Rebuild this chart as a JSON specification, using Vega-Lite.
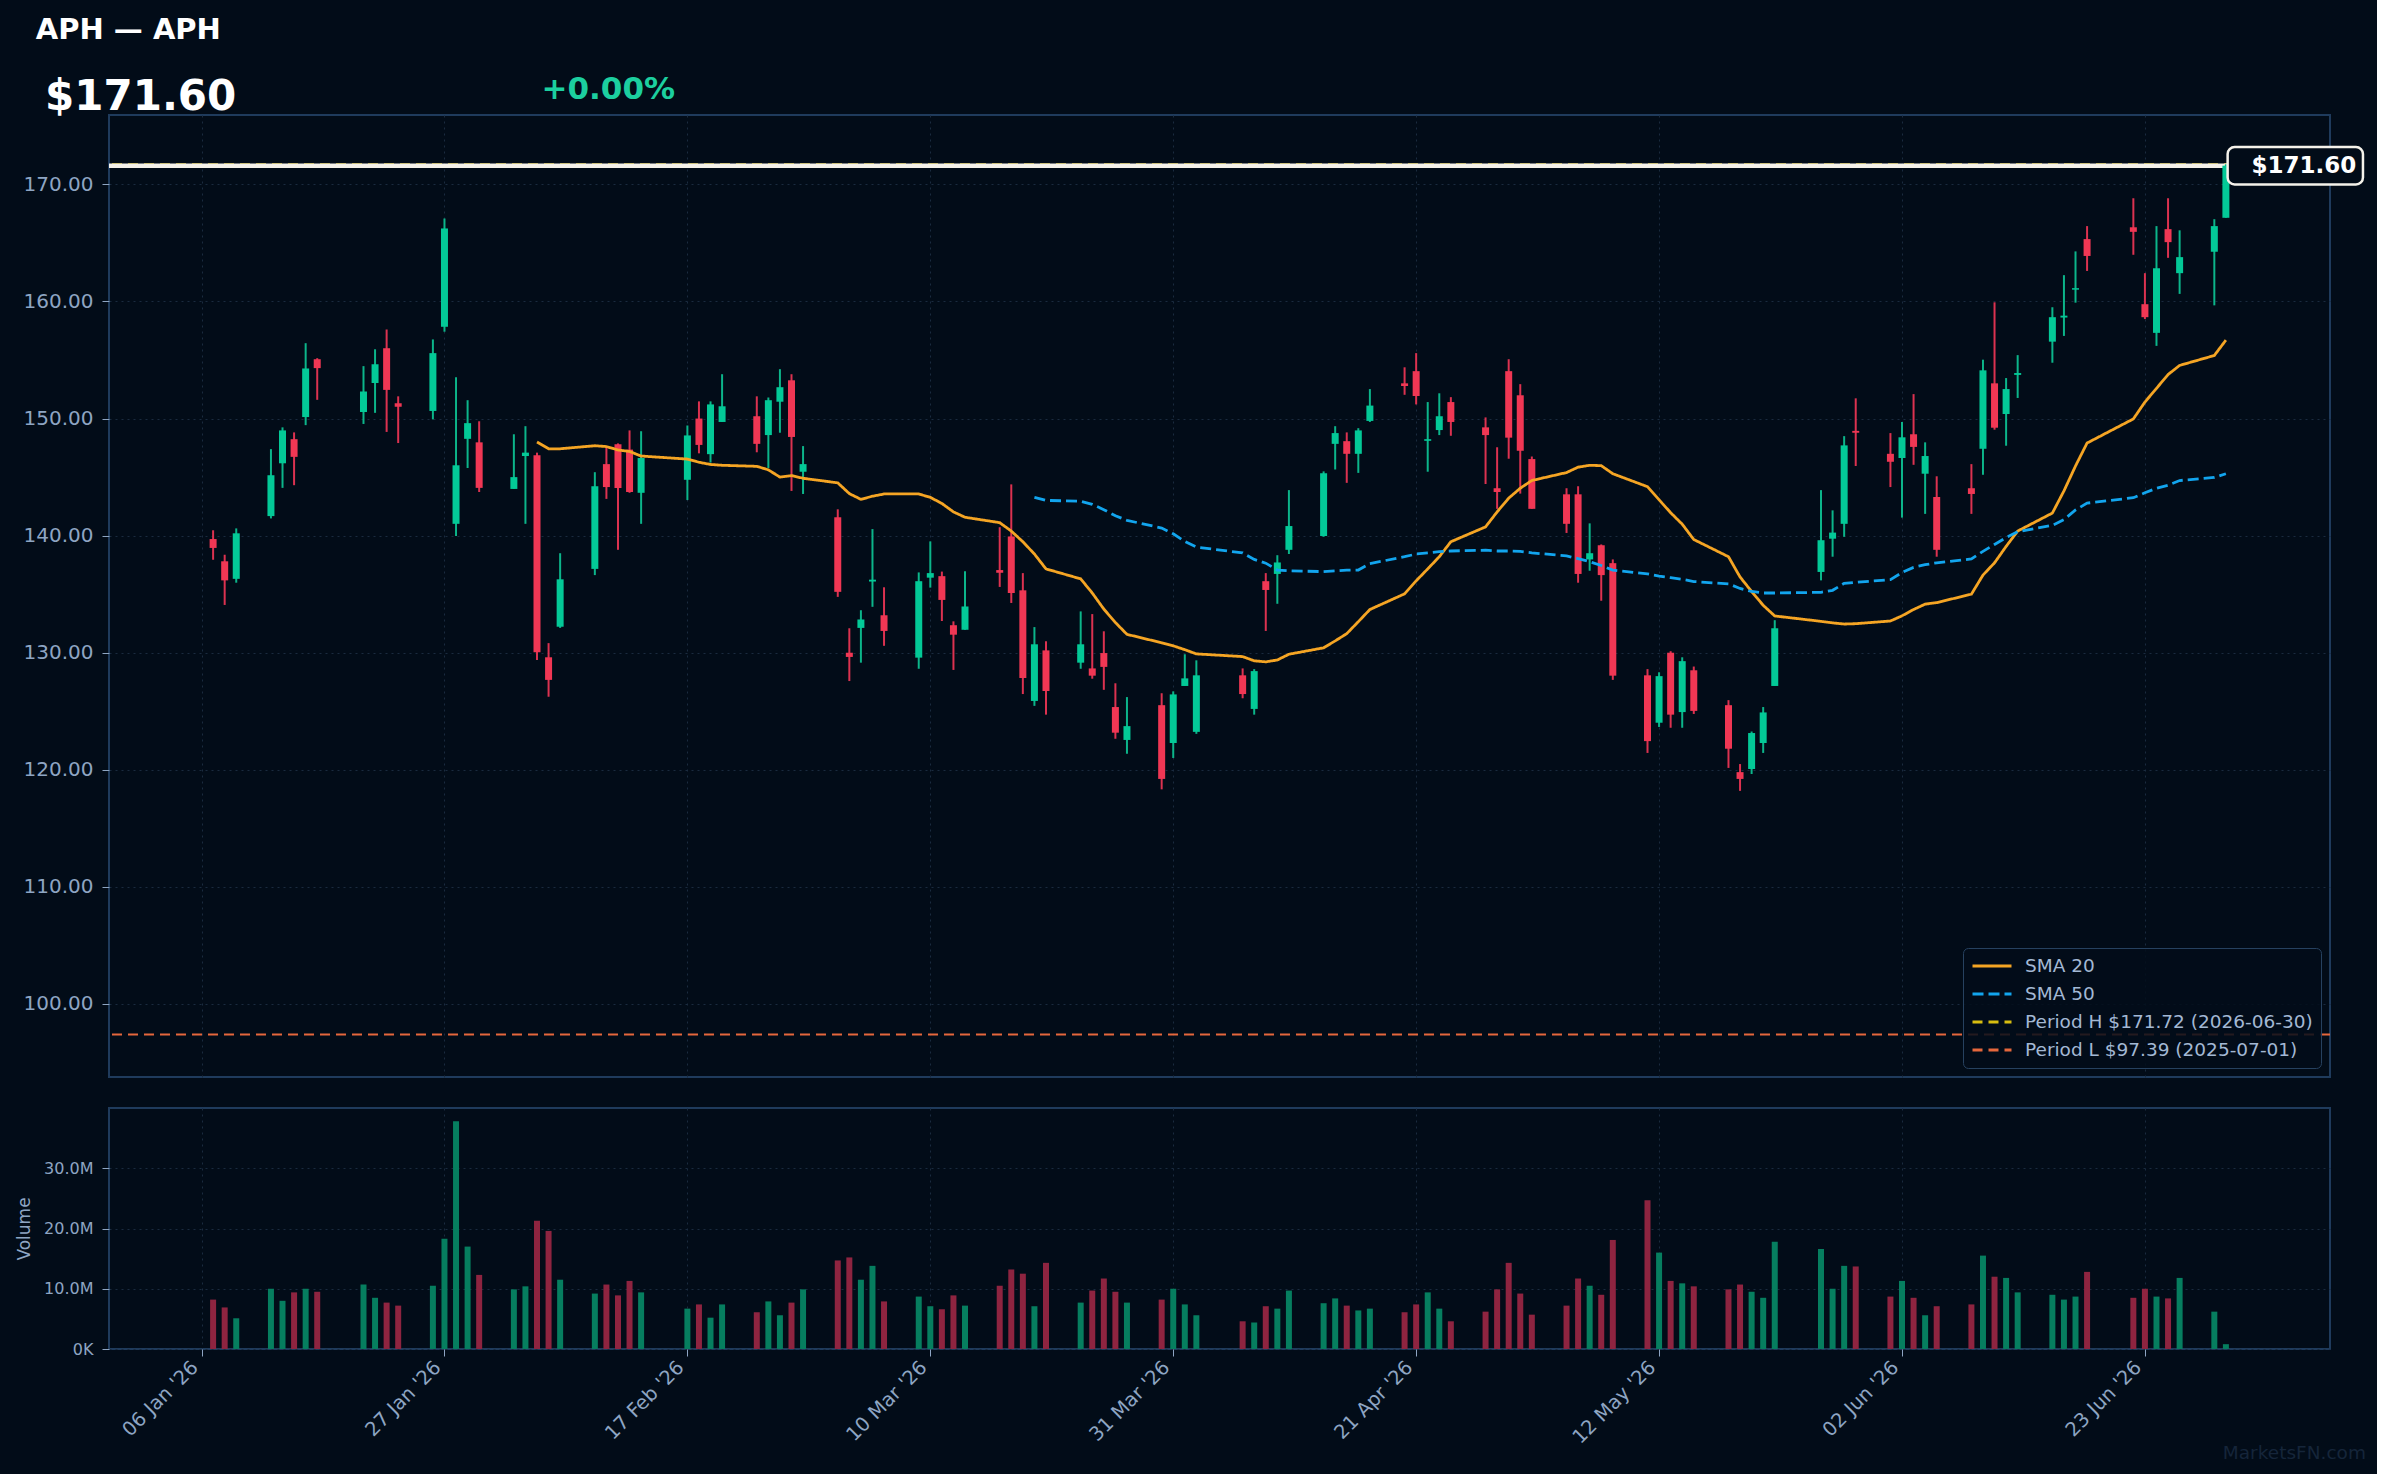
{
  "$schema": "https://vega.github.io/schema/vega-lite/v6.json",
  "background": "#020c18",
  "padding": {"left": 14, "top": 15, "right": 10, "bottom": 10},
  "spacing": 29,
  "resolve": {"scale": {"color": "independent", "strokeDash": "independent"}, "legend": {"color": "independent", "strokeDash": "independent"}},
  "datasets": {
    "candles": [
      {"date":"2026-01-07","open":139.71,"high":140.46,"low":137.94,"close":138.95,"volume":8200000},
      {"date":"2026-01-08","open":137.81,"high":138.37,"low":134.08,"close":136.18,"volume":6900000},
      {"date":"2026-01-09","open":136.31,"high":140.62,"low":135.98,"close":140.2,"volume":5100000},
      {"date":"2026-01-12","open":141.67,"high":147.39,"low":141.47,"close":145.16,"volume":10000000},
      {"date":"2026-01-13","open":146.18,"high":149.25,"low":144.08,"close":148.99,"volume":8000000},
      {"date":"2026-01-14","open":148.24,"high":148.82,"low":144.31,"close":146.73,"volume":9400000},
      {"date":"2026-01-15","open":150.13,"high":156.44,"low":149.44,"close":154.28,"volume":10000000},
      {"date":"2026-01-16","open":155.07,"high":155.16,"low":151.6,"close":154.31,"volume":9500000},
      {"date":"2026-01-20","open":150.56,"high":154.48,"low":149.54,"close":152.32,"volume":10700000},
      {"date":"2026-01-21","open":153.04,"high":155.92,"low":150.49,"close":154.64,"volume":8500000},
      {"date":"2026-01-22","open":156.01,"high":157.61,"low":148.86,"close":152.45,"volume":7700000},
      {"date":"2026-01-23","open":151.31,"high":151.9,"low":147.91,"close":151.01,"volume":7200000},
      {"date":"2026-01-26","open":150.65,"high":156.76,"low":149.93,"close":155.59,"volume":10500000},
      {"date":"2026-01-27","open":157.84,"high":167.09,"low":157.42,"close":166.24,"volume":18300000},
      {"date":"2026-01-28","open":141.01,"high":153.53,"low":139.97,"close":146.01,"volume":37800000},
      {"date":"2026-01-29","open":148.27,"high":151.57,"low":145.78,"close":149.61,"volume":17000000},
      {"date":"2026-01-30","open":147.97,"high":149.77,"low":143.73,"close":144.08,"volume":12300000},
      {"date":"2026-02-02","open":143.99,"high":148.66,"low":143.99,"close":145.0,"volume":9900000},
      {"date":"2026-02-03","open":146.8,"high":149.35,"low":141.01,"close":147.09,"volume":10400000},
      {"date":"2026-02-04","open":146.86,"high":147.09,"low":129.38,"close":130.03,"volume":21300000},
      {"date":"2026-02-05","open":129.61,"high":130.82,"low":126.24,"close":127.68,"volume":19600000},
      {"date":"2026-02-06","open":132.22,"high":138.5,"low":132.12,"close":136.27,"volume":11500000},
      {"date":"2026-02-09","open":137.16,"high":145.42,"low":136.63,"close":144.22,"volume":9200000},
      {"date":"2026-02-10","open":146.11,"high":147.58,"low":143.14,"close":144.15,"volume":10700000},
      {"date":"2026-02-11","open":147.81,"high":147.88,"low":138.79,"close":144.08,"volume":8900000},
      {"date":"2026-02-12","open":147.35,"high":148.99,"low":143.66,"close":143.73,"volume":11300000},
      {"date":"2026-02-13","open":143.66,"high":148.92,"low":141.01,"close":146.63,"volume":9400000},
      {"date":"2026-02-17","open":144.77,"high":149.41,"low":143.04,"close":148.56,"volume":6700000},
      {"date":"2026-02-18","open":150.0,"high":151.47,"low":147.03,"close":147.75,"volume":7400000},
      {"date":"2026-02-19","open":146.96,"high":151.47,"low":146.24,"close":151.21,"volume":5200000},
      {"date":"2026-02-20","open":149.71,"high":153.79,"low":149.71,"close":151.05,"volume":7400000},
      {"date":"2026-02-23","open":150.2,"high":151.9,"low":147.12,"close":147.84,"volume":6100000},
      {"date":"2026-02-24","open":148.59,"high":151.8,"low":145.78,"close":151.57,"volume":7900000},
      {"date":"2026-02-25","open":151.44,"high":154.22,"low":148.79,"close":152.68,"volume":5600000},
      {"date":"2026-02-26","open":153.27,"high":153.79,"low":143.82,"close":148.43,"volume":7700000},
      {"date":"2026-02-27","open":145.46,"high":147.65,"low":143.56,"close":146.11,"volume":9900000},
      {"date":"2026-03-02","open":141.57,"high":142.25,"low":134.77,"close":135.2,"volume":14700000},
      {"date":"2026-03-03","open":130.0,"high":132.09,"low":127.58,"close":129.64,"volume":15200000},
      {"date":"2026-03-04","open":132.12,"high":133.63,"low":129.15,"close":132.84,"volume":11500000},
      {"date":"2026-03-05","open":136.08,"high":140.56,"low":133.92,"close":136.24,"volume":13800000},
      {"date":"2026-03-06","open":133.2,"high":135.59,"low":130.59,"close":131.86,"volume":7900000},
      {"date":"2026-03-09","open":129.58,"high":136.86,"low":128.63,"close":136.11,"volume":8700000},
      {"date":"2026-03-10","open":136.41,"high":139.51,"low":135.56,"close":136.8,"volume":7100000},
      {"date":"2026-03-11","open":136.54,"high":136.93,"low":132.71,"close":134.51,"volume":6600000},
      {"date":"2026-03-12","open":132.35,"high":132.68,"low":128.53,"close":131.54,"volume":8900000},
      {"date":"2026-03-13","open":131.96,"high":136.96,"low":131.96,"close":133.95,"volume":7200000},
      {"date":"2026-03-16","open":137.06,"high":140.72,"low":135.62,"close":136.83,"volume":10500000},
      {"date":"2026-03-17","open":139.93,"high":144.38,"low":134.25,"close":135.1,"volume":13200000},
      {"date":"2026-03-18","open":135.33,"high":136.8,"low":126.47,"close":127.84,"volume":12500000},
      {"date":"2026-03-19","open":125.88,"high":132.19,"low":125.46,"close":130.72,"volume":7100000},
      {"date":"2026-03-20","open":130.2,"high":130.98,"low":124.71,"close":126.73,"volume":14300000},
      {"date":"2026-03-23","open":129.15,"high":133.53,"low":128.63,"close":130.72,"volume":7700000},
      {"date":"2026-03-24","open":128.66,"high":133.3,"low":127.78,"close":128.04,"volume":9700000},
      {"date":"2026-03-25","open":129.97,"high":131.83,"low":126.83,"close":128.79,"volume":11700000},
      {"date":"2026-03-26","open":125.36,"high":127.39,"low":122.65,"close":123.17,"volume":9500000},
      {"date":"2026-03-27","open":122.55,"high":126.21,"low":121.37,"close":123.73,"volume":7700000},
      {"date":"2026-03-30","open":125.52,"high":126.54,"low":118.33,"close":119.22,"volume":8200000},
      {"date":"2026-03-31","open":122.29,"high":126.7,"low":121.01,"close":126.44,"volume":10000000},
      {"date":"2026-04-01","open":127.16,"high":129.87,"low":127.16,"close":127.81,"volume":7400000},
      {"date":"2026-04-02","open":123.24,"high":129.35,"low":123.07,"close":128.07,"volume":5600000},
      {"date":"2026-04-06","open":128.07,"high":128.66,"low":126.11,"close":126.47,"volume":4600000},
      {"date":"2026-04-07","open":125.2,"high":128.6,"low":124.71,"close":128.43,"volume":4400000},
      {"date":"2026-04-08","open":136.11,"high":136.8,"low":131.86,"close":135.36,"volume":7100000},
      {"date":"2026-04-09","open":136.73,"high":138.33,"low":134.18,"close":137.71,"volume":6700000},
      {"date":"2026-04-10","open":138.79,"high":143.89,"low":138.43,"close":140.82,"volume":9700000},
      {"date":"2026-04-13","open":139.97,"high":145.49,"low":139.9,"close":145.33,"volume":7600000},
      {"date":"2026-04-14","open":147.84,"high":149.35,"low":145.65,"close":148.76,"volume":8400000},
      {"date":"2026-04-15","open":148.07,"high":148.82,"low":144.51,"close":146.99,"volume":7200000},
      {"date":"2026-04-16","open":146.99,"high":149.18,"low":145.36,"close":148.99,"volume":6400000},
      {"date":"2026-04-17","open":149.8,"high":152.52,"low":149.71,"close":151.11,"volume":6700000},
      {"date":"2026-04-20","open":153.01,"high":154.38,"low":152.03,"close":152.78,"volume":6100000},
      {"date":"2026-04-21","open":154.05,"high":155.59,"low":151.21,"close":151.93,"volume":7400000},
      {"date":"2026-04-22","open":148.1,"high":151.41,"low":145.46,"close":148.24,"volume":9400000},
      {"date":"2026-04-23","open":149.02,"high":152.16,"low":148.59,"close":150.2,"volume":6700000},
      {"date":"2026-04-24","open":151.41,"high":151.83,"low":148.53,"close":149.71,"volume":4600000},
      {"date":"2026-04-27","open":149.25,"high":150.1,"low":144.41,"close":148.59,"volume":6200000},
      {"date":"2026-04-28","open":144.05,"high":147.55,"low":142.29,"close":143.73,"volume":9900000},
      {"date":"2026-04-29","open":154.05,"high":155.07,"low":146.57,"close":148.37,"volume":14300000},
      {"date":"2026-04-30","open":151.99,"high":152.94,"low":143.59,"close":147.25,"volume":9200000},
      {"date":"2026-05-01","open":146.54,"high":146.76,"low":142.29,"close":142.29,"volume":5700000},
      {"date":"2026-05-04","open":143.53,"high":144.05,"low":140.23,"close":141.01,"volume":7200000},
      {"date":"2026-05-05","open":143.53,"high":144.22,"low":135.98,"close":136.73,"volume":11700000},
      {"date":"2026-05-06","open":137.97,"high":141.05,"low":137.0,"close":138.5,"volume":10500000},
      {"date":"2026-05-07","open":139.18,"high":139.25,"low":134.44,"close":136.63,"volume":9000000},
      {"date":"2026-05-08","open":137.65,"high":137.97,"low":127.68,"close":128.04,"volume":18100000},
      {"date":"2026-05-11","open":128.07,"high":128.6,"low":121.44,"close":122.45,"volume":24700000},
      {"date":"2026-05-12","open":124.02,"high":128.33,"low":123.66,"close":128.0,"volume":16000000},
      {"date":"2026-05-13","open":130.0,"high":130.13,"low":123.59,"close":124.71,"volume":11300000},
      {"date":"2026-05-14","open":124.93,"high":129.61,"low":123.59,"close":129.28,"volume":10900000},
      {"date":"2026-05-15","open":128.5,"high":128.82,"low":124.77,"close":125.03,"volume":10400000},
      {"date":"2026-05-18","open":125.52,"high":125.95,"low":120.16,"close":121.8,"volume":9900000},
      {"date":"2026-05-19","open":119.8,"high":120.49,"low":118.2,"close":119.22,"volume":10700000},
      {"date":"2026-05-20","open":120.07,"high":123.27,"low":119.64,"close":123.14,"volume":9500000},
      {"date":"2026-05-21","open":122.29,"high":125.36,"low":121.44,"close":124.9,"volume":8500000},
      {"date":"2026-05-22","open":127.16,"high":132.78,"low":127.16,"close":132.09,"volume":17800000},
      {"date":"2026-05-26","open":136.9,"high":143.89,"low":136.18,"close":139.61,"volume":16600000},
      {"date":"2026-05-27","open":139.74,"high":142.16,"low":138.2,"close":140.26,"volume":10000000},
      {"date":"2026-05-28","open":141.01,"high":148.5,"low":139.9,"close":147.71,"volume":13800000},
      {"date":"2026-05-29","open":148.95,"high":151.73,"low":145.95,"close":148.79,"volume":13700000},
      {"date":"2026-06-01","open":146.99,"high":148.76,"low":144.15,"close":146.31,"volume":8700000},
      {"date":"2026-06-02","open":146.63,"high":149.71,"low":141.54,"close":148.4,"volume":11300000},
      {"date":"2026-06-03","open":148.66,"high":152.09,"low":146.05,"close":147.58,"volume":8500000},
      {"date":"2026-06-04","open":145.29,"high":147.97,"low":141.86,"close":146.8,"volume":5600000},
      {"date":"2026-06-05","open":143.3,"high":145.07,"low":138.2,"close":138.79,"volume":7100000},
      {"date":"2026-06-08","open":144.05,"high":146.11,"low":141.86,"close":143.56,"volume":7400000},
      {"date":"2026-06-09","open":147.42,"high":155.03,"low":145.2,"close":154.12,"volume":15500000},
      {"date":"2026-06-10","open":153.01,"high":159.93,"low":149.05,"close":149.22,"volume":12000000},
      {"date":"2026-06-11","open":150.39,"high":153.46,"low":147.68,"close":152.52,"volume":11800000},
      {"date":"2026-06-12","open":153.73,"high":155.42,"low":151.76,"close":153.89,"volume":9400000},
      {"date":"2026-06-15","open":156.57,"high":159.51,"low":154.77,"close":158.66,"volume":9000000},
      {"date":"2026-06-16","open":158.63,"high":162.25,"low":157.06,"close":158.79,"volume":8200000},
      {"date":"2026-06-17","open":161.01,"high":164.28,"low":159.9,"close":161.14,"volume":8700000},
      {"date":"2026-06-18","open":165.33,"high":166.44,"low":162.61,"close":163.89,"volume":12800000},
      {"date":"2026-06-22","open":166.34,"high":168.82,"low":163.99,"close":165.95,"volume":8500000},
      {"date":"2026-06-23","open":159.77,"high":162.42,"low":158.5,"close":158.66,"volume":10000000},
      {"date":"2026-06-24","open":157.32,"high":166.44,"low":156.21,"close":162.84,"volume":8700000},
      {"date":"2026-06-25","open":166.18,"high":168.82,"low":163.73,"close":165.07,"volume":8400000},
      {"date":"2026-06-26","open":162.42,"high":166.08,"low":160.65,"close":163.79,"volume":11800000},
      {"date":"2026-06-29","open":164.25,"high":167.03,"low":159.67,"close":166.44,"volume":6200000},
      {"date":"2026-06-30","open":167.15,"high":171.72,"low":167.15,"close":171.6,"volume":800000}
    ],
    "sma": [
      {"date":"2026-02-04","series":"SMA 20","value":148.0},
      {"date":"2026-02-05","series":"SMA 20","value":147.42},
      {"date":"2026-02-06","series":"SMA 20","value":147.42},
      {"date":"2026-02-09","series":"SMA 20","value":147.68},
      {"date":"2026-02-10","series":"SMA 20","value":147.61},
      {"date":"2026-02-11","series":"SMA 20","value":147.32},
      {"date":"2026-02-12","series":"SMA 20","value":147.19},
      {"date":"2026-02-13","series":"SMA 20","value":146.8},
      {"date":"2026-02-17","series":"SMA 20","value":146.54},
      {"date":"2026-02-18","series":"SMA 20","value":146.27},
      {"date":"2026-02-19","series":"SMA 20","value":146.08},
      {"date":"2026-02-20","series":"SMA 20","value":146.01},
      {"date":"2026-02-23","series":"SMA 20","value":145.92},
      {"date":"2026-02-24","series":"SMA 20","value":145.62},
      {"date":"2026-02-25","series":"SMA 20","value":145.0},
      {"date":"2026-02-26","series":"SMA 20","value":145.13},
      {"date":"2026-02-27","series":"SMA 20","value":144.9},
      {"date":"2026-03-02","series":"SMA 20","value":144.51},
      {"date":"2026-03-03","series":"SMA 20","value":143.59},
      {"date":"2026-03-04","series":"SMA 20","value":143.1},
      {"date":"2026-03-05","series":"SMA 20","value":143.37},
      {"date":"2026-03-06","series":"SMA 20","value":143.56},
      {"date":"2026-03-09","series":"SMA 20","value":143.56},
      {"date":"2026-03-10","series":"SMA 20","value":143.27},
      {"date":"2026-03-11","series":"SMA 20","value":142.75},
      {"date":"2026-03-12","series":"SMA 20","value":142.03},
      {"date":"2026-03-13","series":"SMA 20","value":141.57},
      {"date":"2026-03-16","series":"SMA 20","value":141.11},
      {"date":"2026-03-17","series":"SMA 20","value":140.39},
      {"date":"2026-03-18","series":"SMA 20","value":139.48},
      {"date":"2026-03-19","series":"SMA 20","value":138.43},
      {"date":"2026-03-20","series":"SMA 20","value":137.16},
      {"date":"2026-03-23","series":"SMA 20","value":136.31},
      {"date":"2026-03-24","series":"SMA 20","value":135.1},
      {"date":"2026-03-25","series":"SMA 20","value":133.73},
      {"date":"2026-03-26","series":"SMA 20","value":132.58},
      {"date":"2026-03-27","series":"SMA 20","value":131.57},
      {"date":"2026-03-30","series":"SMA 20","value":130.85},
      {"date":"2026-03-31","series":"SMA 20","value":130.59},
      {"date":"2026-04-01","series":"SMA 20","value":130.26},
      {"date":"2026-04-02","series":"SMA 20","value":129.9},
      {"date":"2026-04-06","series":"SMA 20","value":129.67},
      {"date":"2026-04-07","series":"SMA 20","value":129.31},
      {"date":"2026-04-08","series":"SMA 20","value":129.22},
      {"date":"2026-04-09","series":"SMA 20","value":129.38},
      {"date":"2026-04-10","series":"SMA 20","value":129.87},
      {"date":"2026-04-13","series":"SMA 20","value":130.42},
      {"date":"2026-04-14","series":"SMA 20","value":131.01},
      {"date":"2026-04-15","series":"SMA 20","value":131.63},
      {"date":"2026-04-16","series":"SMA 20","value":132.65},
      {"date":"2026-04-17","series":"SMA 20","value":133.69},
      {"date":"2026-04-20","series":"SMA 20","value":135.03},
      {"date":"2026-04-21","series":"SMA 20","value":136.14},
      {"date":"2026-04-22","series":"SMA 20","value":137.16},
      {"date":"2026-04-23","series":"SMA 20","value":138.2},
      {"date":"2026-04-24","series":"SMA 20","value":139.48},
      {"date":"2026-04-27","series":"SMA 20","value":140.75},
      {"date":"2026-04-28","series":"SMA 20","value":142.03},
      {"date":"2026-04-29","series":"SMA 20","value":143.2},
      {"date":"2026-04-30","series":"SMA 20","value":144.05},
      {"date":"2026-05-01","series":"SMA 20","value":144.71},
      {"date":"2026-05-04","series":"SMA 20","value":145.39},
      {"date":"2026-05-05","series":"SMA 20","value":145.85},
      {"date":"2026-05-06","series":"SMA 20","value":146.01},
      {"date":"2026-05-07","series":"SMA 20","value":145.98},
      {"date":"2026-05-08","series":"SMA 20","value":145.29},
      {"date":"2026-05-11","series":"SMA 20","value":144.18},
      {"date":"2026-05-12","series":"SMA 20","value":143.07},
      {"date":"2026-05-13","series":"SMA 20","value":141.96},
      {"date":"2026-05-14","series":"SMA 20","value":140.98},
      {"date":"2026-05-15","series":"SMA 20","value":139.67},
      {"date":"2026-05-18","series":"SMA 20","value":138.2},
      {"date":"2026-05-19","series":"SMA 20","value":136.47},
      {"date":"2026-05-20","series":"SMA 20","value":135.23},
      {"date":"2026-05-21","series":"SMA 20","value":134.05},
      {"date":"2026-05-22","series":"SMA 20","value":133.14},
      {"date":"2026-05-26","series":"SMA 20","value":132.68},
      {"date":"2026-05-27","series":"SMA 20","value":132.55},
      {"date":"2026-05-28","series":"SMA 20","value":132.45},
      {"date":"2026-05-29","series":"SMA 20","value":132.48},
      {"date":"2026-06-01","series":"SMA 20","value":132.71},
      {"date":"2026-06-02","series":"SMA 20","value":133.15},
      {"date":"2026-06-03","series":"SMA 20","value":133.69},
      {"date":"2026-06-04","series":"SMA 20","value":134.15},
      {"date":"2026-06-05","series":"SMA 20","value":134.28},
      {"date":"2026-06-08","series":"SMA 20","value":135.0},
      {"date":"2026-06-09","series":"SMA 20","value":136.63},
      {"date":"2026-06-10","series":"SMA 20","value":137.68},
      {"date":"2026-06-11","series":"SMA 20","value":139.08},
      {"date":"2026-06-12","series":"SMA 20","value":140.39},
      {"date":"2026-06-15","series":"SMA 20","value":141.93},
      {"date":"2026-06-16","series":"SMA 20","value":143.82},
      {"date":"2026-06-17","series":"SMA 20","value":145.95},
      {"date":"2026-06-18","series":"SMA 20","value":147.91},
      {"date":"2026-06-22","series":"SMA 20","value":149.97},
      {"date":"2026-06-23","series":"SMA 20","value":151.41},
      {"date":"2026-06-24","series":"SMA 20","value":152.58},
      {"date":"2026-06-25","series":"SMA 20","value":153.76},
      {"date":"2026-06-26","series":"SMA 20","value":154.54},
      {"date":"2026-06-29","series":"SMA 20","value":155.39},
      {"date":"2026-06-30","series":"SMA 20","value":156.7},
      {"date":"2026-03-19","series":"SMA 50","value":143.27},
      {"date":"2026-03-20","series":"SMA 50","value":143.01},
      {"date":"2026-03-23","series":"SMA 50","value":142.94},
      {"date":"2026-03-24","series":"SMA 50","value":142.68},
      {"date":"2026-03-25","series":"SMA 50","value":142.22},
      {"date":"2026-03-26","series":"SMA 50","value":141.7},
      {"date":"2026-03-27","series":"SMA 50","value":141.31},
      {"date":"2026-03-30","series":"SMA 50","value":140.65},
      {"date":"2026-03-31","series":"SMA 50","value":140.16},
      {"date":"2026-04-01","series":"SMA 50","value":139.51},
      {"date":"2026-04-02","series":"SMA 50","value":139.02},
      {"date":"2026-04-06","series":"SMA 50","value":138.53},
      {"date":"2026-04-07","series":"SMA 50","value":137.97},
      {"date":"2026-04-08","series":"SMA 50","value":137.65},
      {"date":"2026-04-09","series":"SMA 50","value":137.06},
      {"date":"2026-04-10","series":"SMA 50","value":136.99},
      {"date":"2026-04-13","series":"SMA 50","value":136.93},
      {"date":"2026-04-14","series":"SMA 50","value":136.99},
      {"date":"2026-04-15","series":"SMA 50","value":137.06},
      {"date":"2026-04-16","series":"SMA 50","value":137.06},
      {"date":"2026-04-17","series":"SMA 50","value":137.61},
      {"date":"2026-04-20","series":"SMA 50","value":138.2},
      {"date":"2026-04-21","series":"SMA 50","value":138.43},
      {"date":"2026-04-22","series":"SMA 50","value":138.53},
      {"date":"2026-04-23","series":"SMA 50","value":138.63},
      {"date":"2026-04-24","series":"SMA 50","value":138.69},
      {"date":"2026-04-27","series":"SMA 50","value":138.76},
      {"date":"2026-04-28","series":"SMA 50","value":138.69},
      {"date":"2026-04-29","series":"SMA 50","value":138.69},
      {"date":"2026-04-30","series":"SMA 50","value":138.66},
      {"date":"2026-05-01","series":"SMA 50","value":138.53},
      {"date":"2026-05-04","series":"SMA 50","value":138.27},
      {"date":"2026-05-05","series":"SMA 50","value":138.04},
      {"date":"2026-05-06","series":"SMA 50","value":137.78},
      {"date":"2026-05-07","series":"SMA 50","value":137.45},
      {"date":"2026-05-08","series":"SMA 50","value":137.06},
      {"date":"2026-05-11","series":"SMA 50","value":136.73},
      {"date":"2026-05-12","series":"SMA 50","value":136.54},
      {"date":"2026-05-13","series":"SMA 50","value":136.41},
      {"date":"2026-05-14","series":"SMA 50","value":136.27},
      {"date":"2026-05-15","series":"SMA 50","value":136.08},
      {"date":"2026-05-18","series":"SMA 50","value":135.88},
      {"date":"2026-05-19","series":"SMA 50","value":135.49},
      {"date":"2026-05-20","series":"SMA 50","value":135.23},
      {"date":"2026-05-21","series":"SMA 50","value":135.1},
      {"date":"2026-05-22","series":"SMA 50","value":135.1},
      {"date":"2026-05-26","series":"SMA 50","value":135.16},
      {"date":"2026-05-27","series":"SMA 50","value":135.33},
      {"date":"2026-05-28","series":"SMA 50","value":135.92},
      {"date":"2026-05-29","series":"SMA 50","value":136.01},
      {"date":"2026-06-01","series":"SMA 50","value":136.24},
      {"date":"2026-06-02","series":"SMA 50","value":136.85},
      {"date":"2026-06-03","series":"SMA 50","value":137.29},
      {"date":"2026-06-04","series":"SMA 50","value":137.52},
      {"date":"2026-06-05","series":"SMA 50","value":137.68},
      {"date":"2026-06-08","series":"SMA 50","value":138.01},
      {"date":"2026-06-09","series":"SMA 50","value":138.66},
      {"date":"2026-06-10","series":"SMA 50","value":139.25},
      {"date":"2026-06-11","series":"SMA 50","value":139.84},
      {"date":"2026-06-12","series":"SMA 50","value":140.33},
      {"date":"2026-06-15","series":"SMA 50","value":140.88},
      {"date":"2026-06-16","series":"SMA 50","value":141.37},
      {"date":"2026-06-17","series":"SMA 50","value":142.19},
      {"date":"2026-06-18","series":"SMA 50","value":142.78},
      {"date":"2026-06-22","series":"SMA 50","value":143.24},
      {"date":"2026-06-23","series":"SMA 50","value":143.66},
      {"date":"2026-06-24","series":"SMA 50","value":144.05},
      {"date":"2026-06-25","series":"SMA 50","value":144.31},
      {"date":"2026-06-26","series":"SMA 50","value":144.71},
      {"date":"2026-06-29","series":"SMA 50","value":144.97},
      {"date":"2026-06-30","series":"SMA 50","value":145.29}
    ],
    "levels": [
      {"series":"Period H $171.72 (2026-06-30)","value":171.72},
      {"series":"Period L $97.39 (2025-07-01)","value":97.39}
    ]
  },
  "vconcat": [
    {
      "width": 2221,
      "height": 962,
      "layer": [
        {
          "data": {"name": "levels"},
          "mark": {"type": "rule", "strokeWidth": 2.2},
          "encoding": {
            "y": {"field": "value", "type": "quantitative",
                  "scale": {"domain": [93.76, 175.93], "nice": false, "zero": false, "padding": 0},
                  "axis": {"values": [100,110,120,130,140,150,160,170], "format": ".2f", "title": null, "labelFontSize": 20, "tickSize": 7, "labelPadding": 9, "grid": true, "labelOverlap": false}},
            "color": {"field": "series", "type": "nominal",
                      "scale": {"domain": ["SMA 20","SMA 50","Period H $171.72 (2026-06-30)","Period L $97.39 (2025-07-01)"],
                                "range": ["#f5a524","#12a5ee","#d8bd10","#e5673c"]},
                      "legend": {"title": null}},
            "strokeDash": {"field": "series", "type": "nominal",
                      "scale": {"domain": ["SMA 20","SMA 50","Period H $171.72 (2026-06-30)","Period L $97.39 (2025-07-01)"],
                                "range": [[1,0],[11,5],[10,6],[10,6]]},
                      "legend": {"title": null}}
          }
        },
        {
          "data": {"values": [{}]},
          "mark": {"type": "rule", "strokeWidth": 4.5, "color": "#f5f2ea"},
          "encoding": {"y": {"datum": 171.6, "type": "quantitative"}}
        },
        {
          "data": {"name": "candles"},
          "mark": {"type": "rule", "strokeWidth": 2},
          "encoding": {
            "x": {"field": "date", "type": "temporal",
                  "scale": {"type": "utc", "domain": [{"year":2025,"month":12,"date":29,"utc":true},{"year":2026,"month":7,"date":9,"utc":true}], "nice": false, "padding": 0},
                  "axis": {"values": [{"year":2026,"month":1,"date":6,"utc":true},{"year":2026,"month":1,"date":27,"utc":true},{"year":2026,"month":2,"date":17,"utc":true},{"year":2026,"month":3,"date":10,"utc":true},{"year":2026,"month":3,"date":31,"utc":true},{"year":2026,"month":4,"date":21,"utc":true},{"year":2026,"month":5,"date":12,"utc":true},{"year":2026,"month":6,"date":2,"utc":true},{"year":2026,"month":6,"date":23,"utc":true}],
                           "labels": false, "ticks": false, "domain": false, "grid": true, "title": null}},
            "y": {"field": "low", "type": "quantitative"},
            "y2": {"field": "high"},
            "color": {"condition": {"test": "datum.close >= datum.open", "value": "#0cb58a"}, "value": "#dc3250"}
          }
        },
        {
          "data": {"name": "candles"},
          "mark": {"type": "bar", "size": 7},
          "encoding": {
            "x": {"field": "date", "type": "temporal"},
            "y": {"field": "open", "type": "quantitative"},
            "y2": {"field": "close"},
            "color": {"condition": {"test": "datum.close >= datum.open", "value": "#03c997"}, "value": "#f03754"}
          }
        },
        {
          "data": {"name": "sma"},
          "mark": {"type": "line", "strokeWidth": 2.8},
          "encoding": {
            "x": {"field": "date", "type": "temporal"},
            "y": {"field": "value", "type": "quantitative"},
            "color": {"field": "series", "type": "nominal"},
            "strokeDash": {"field": "series", "type": "nominal"}
          }
        },
        {
          "data": {"values": [{}]},
          "mark": {"type": "rect", "fill": "#020c18", "stroke": "#f5f2ea", "strokeWidth": 2.5, "cornerRadius": 7},
          "encoding": {
            "x": {"datum": {"year":2026,"month":6,"date":30,"hours":3,"minutes":36,"utc":true}, "type": "temporal"},
            "x2": {"datum": {"year":2026,"month":7,"date":11,"hours":20,"minutes":24,"utc":true}},
            "y": {"datum": 173.2, "type": "quantitative"},
            "y2": {"datum": 169.99}
          }
        },
        {
          "data": {"values": [{}]},
          "mark": {"type": "text", "text": "$171.60", "font": "DejaVu Sans", "fontWeight": "bold", "fontSize": 23, "color": "#ffffff", "align": "center", "baseline": "middle"},
          "encoding": {
            "x": {"datum": {"year":2026,"month":7,"date":6,"hours":18,"utc":true}, "type": "temporal"},
            "y": {"datum": 171.6, "type": "quantitative"}
          }
        },
        {
          "data": {"values": [{}]},
          "mark": {"type": "text", "text": "APH — APH", "font": "DejaVu Sans", "fontWeight": "bold", "fontSize": 29, "color": "#ffffff", "align": "left", "baseline": "alphabetic"},
          "encoding": {
            "x": {"datum": {"year":2025,"month":12,"date":22,"hours":16,"utc":true}, "type": "temporal"},
            "y": {"datum": 182.42, "type": "quantitative"}
          }
        },
        {
          "data": {"values": [{}]},
          "mark": {"type": "text", "text": "$171.60", "font": "DejaVu Sans", "fontWeight": "bold", "fontSize": 42, "color": "#ffffff", "align": "left", "baseline": "alphabetic"},
          "encoding": {
            "x": {"datum": {"year":2025,"month":12,"date":23,"hours":11,"minutes":15,"utc":true}, "type": "temporal"},
            "y": {"datum": 176.36, "type": "quantitative"}
          }
        },
        {
          "data": {"values": [{}]},
          "mark": {"type": "text", "text": "+0.00%", "font": "DejaVu Sans", "fontWeight": "bold", "fontSize": 31, "color": "#1ccf9f", "align": "left", "baseline": "alphabetic"},
          "encoding": {
            "x": {"datum": {"year":2026,"month":2,"date":4,"hours":9,"minutes":20,"utc":true}, "type": "temporal"},
            "y": {"datum": 177.3, "type": "quantitative"}
          }
        }
      ]
    },
    {
      "width": 2221,
      "height": 241,
      "layer": [
        {
          "data": {"name": "candles"},
          "mark": {"type": "bar", "size": 6},
          "encoding": {
            "x": {"field": "date", "type": "temporal",
                  "scale": {"type": "utc", "domain": [{"year":2025,"month":12,"date":29,"utc":true},{"year":2026,"month":7,"date":9,"utc":true}], "nice": false, "padding": 0},
                  "axis": {"values": [{"year":2026,"month":1,"date":6,"utc":true},{"year":2026,"month":1,"date":27,"utc":true},{"year":2026,"month":2,"date":17,"utc":true},{"year":2026,"month":3,"date":10,"utc":true},{"year":2026,"month":3,"date":31,"utc":true},{"year":2026,"month":4,"date":21,"utc":true},{"year":2026,"month":5,"date":12,"utc":true},{"year":2026,"month":6,"date":2,"utc":true},{"year":2026,"month":6,"date":23,"utc":true}],
                           "format": "%d %b '%y", "labelAngle": -45, "labelAlign": "right", "labelBaseline": "bottom", "labelFontSize": 19.5, "labelPadding": 15, "tickSize": 7, "grid": true, "title": null, "labelOverlap": false, "labelFlush": false}},
            "y": {"field": "volume", "type": "quantitative",
                  "scale": {"domain": [0, 40000000], "nice": false, "padding": 0},
                  "axis": {"values": [0, 10000000, 20000000, 30000000], "labelExpr": "datum.value == 0 ? '0K' : format(datum.value / 1000000, '.1f') + 'M'", "title": "Volume", "titleFontSize": 17, "titlePadding": 10, "labelFontSize": 16, "tickSize": 7, "labelPadding": 9, "grid": true}},
            "color": {"condition": {"test": "datum.close >= datum.open", "value": "#067e5f"}, "value": "#8e2440"}
          }
        },
        {
          "data": {"values": [{}]},
          "mark": {"type": "text", "text": "MarketsFN.com", "font": "DejaVu Sans", "fontSize": 18.5, "color": "#15253a", "align": "right", "baseline": "alphabetic"},
          "encoding": {
            "x": {"datum": {"year":2026,"month":7,"date":12,"hours":2,"minutes":30,"utc":true}, "type": "temporal"},
            "y": {"datum": -18260000, "type": "quantitative"}
          }
        }
      ]
    }
  ],
  "config": {
    "font": "DejaVu Sans",
    "view": {"stroke": "#1f3b5c", "strokeWidth": 2, "fill": "#020c18"},
    "axis": {
      "labelFont": "DejaVu Sans", "labelColor": "#8ea5c3", "tickColor": "#8ea5c3",
      "gridColor": "#1a2b3f", "gridDash": [2, 4], "gridWidth": 1, "domain": false,
      "titleColor": "#8ea5c3", "titleFont": "DejaVu Sans", "titleFontWeight": "normal"
    },
    "legend": {
      "orient": "bottom-right", "offset": 9, "padding": 8,
      "fillColor": "rgba(2,13,26,0.85)", "strokeColor": "#26415f", "cornerRadius": 5,
      "labelColor": "#a3b8d4", "labelFont": "DejaVu Sans", "labelFontSize": 18.5, "labelLimit": 600,
      "symbolType": "stroke", "symbolSize": 1521, "symbolStrokeWidth": 3, "clipHeight": 20, "rowPadding": 8, "labelOffset": 12
    }
  }
}
